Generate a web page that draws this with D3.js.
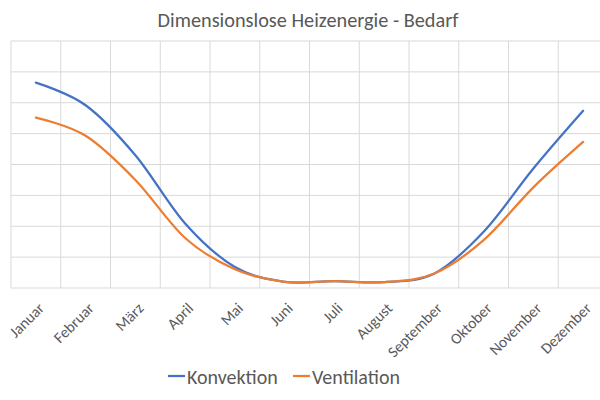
<!DOCTYPE html>
<html><head><meta charset="utf-8">
<script src="https://cdn.jsdelivr.net/npm/d3@7/dist/d3.min.js"></script>
<style>body{margin:0;background:#fff}svg{display:block}</style>
</head><body>
<svg id="c" width="600" height="400"></svg>
<script>
const months = ["Januar","Februar","März","April","Mai","Juni","Juli","August","September","Oktober","November","Dezember"];
const konvektion = [6.65, 5.92, 4.30, 2.09, 0.68, 0.20, 0.22, 0.19, 0.46, 1.82, 3.87, 5.74];
const ventilation = [5.52, 4.93, 3.50, 1.62, 0.61, 0.20, 0.22, 0.19, 0.46, 1.55, 3.26, 4.73];
const yTicks = [0,1,2,3,4,5,6,7,8];
const title = "Dimensionslose Heizenergie - Bedarf";
const seriesNames = ["Konvektion","Ventilation"];
const colors = ["#4472C4","#ED7D31"];

const svg = d3.select("#c");
const font = "Calibri, Carlito, Lato, sans-serif";
const x = d3.scaleBand().domain(months).range([11, 608]);
const y = d3.scaleLinear().domain([0, 8]).range([288, 41]);

// horizontal grid
svg.append("g").selectAll("line").data(yTicks).join("line")
  .attr("x1", 11).attr("x2", 608)
  .attr("y1", d => y(d)).attr("y2", d => y(d))
  .attr("stroke", "#d9d9d9").attr("stroke-width", 1);
// vertical grid
const vx = months.map(m => x(m)).concat([x.range()[1]]);
svg.append("g").selectAll("line").data(vx).join("line")
  .attr("x1", d => d).attr("x2", d => d)
  .attr("y1", y(8)).attr("y2", y(0))
  .attr("stroke", "#d9d9d9").attr("stroke-width", 1);

const cx = m => x(m) + x.bandwidth()/2;
const line = d3.line().x((d,i) => cx(months[i])).y(d => y(d)).curve(d3.curveCardinal.tension(0));
[konvektion, ventilation].forEach((s, k) => {
  svg.append("path").attr("d", line(s)).attr("fill", "none")
    .attr("stroke", colors[k]).attr("stroke-width", 2.25).attr("stroke-linecap", "round");
});

// x labels
svg.append("g").selectAll("text").data(months).join("text")
  .attr("transform", m => `translate(${cx(m)+1},${301}) rotate(-45)`)
  .attr("text-anchor", "end").attr("dy", "0.75em")
  .attr("font-family", font).attr("font-size", 15.5).attr("fill", "#595959")
  .text(m => m);

// title
svg.append("text").attr("x", 308).attr("y", 27).attr("text-anchor", "middle")
  .attr("font-family", font).attr("font-size", 20.3).attr("fill", "#595959").text(title);

// legend
const lg = svg.append("g");
const lx = [168, 293];
seriesNames.forEach((n, k) => {
  lg.append("line").attr("x1", lx[k]).attr("x2", lx[k]+17).attr("y1", 376).attr("y2", 376)
    .attr("stroke", colors[k]).attr("stroke-width", 2.25);
  lg.append("text").attr("x", lx[k]+19).attr("y", 384)
    .attr("font-family", font).attr("font-size", 20).attr("fill", "#595959").text(n);
});
</script>
</body></html>
